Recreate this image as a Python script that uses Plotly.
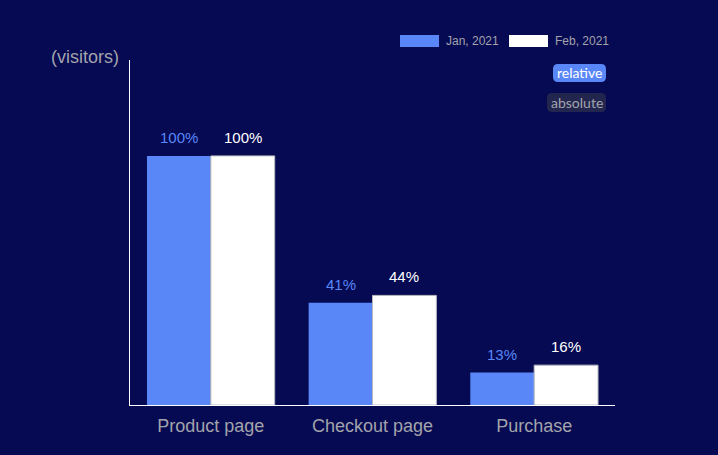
import plotly.graph_objects as go

categories = ["Product page", "Checkout page", "Purchase"]
series_names = ["Jan, 2021", "Feb, 2021"]
jan_values = [100, 41, 13]
feb_values = [100, 44, 16]
y_label = "(visitors)"
buttons = ["relative", "absolute"]

W, H = 718, 455
L, R, T, B = 130, 103, 60, 50
PW, PH = W - L - R, H - T - B
BG = "#050a52"
BLUE = "#5a87f8"
GRAY = "#a3a3ab"


def px(x):
    return (x - L) / PW


def py(y):
    return (H - B - y) / PH


def rrect(x0, y0, x1, y1, r):
    rx, ry = r / PW, r / PH
    X0, X1 = px(x0), px(x1)
    Y0, Y1 = py(y1), py(y0)  # bottom, top in paper
    return (f"M{X0+rx},{Y0} L{X1-rx},{Y0} Q{X1},{Y0} {X1},{Y0+ry} "
            f"L{X1},{Y1-ry} Q{X1},{Y1} {X1-rx},{Y1} L{X0+rx},{Y1} "
            f"Q{X0},{Y1} {X0},{Y1-ry} L{X0},{Y0+ry} Q{X0},{Y0} {X0+rx},{Y0} Z")


fig = go.Figure()
fig.add_trace(go.Bar(x=categories, y=jan_values, name=series_names[0],
                     marker=dict(color=BLUE, line=dict(width=0)), showlegend=False))
fig.add_trace(go.Bar(x=categories, y=feb_values, name=series_names[1],
                     marker=dict(color="white", line=dict(color="#b8b8c0", width=1)),
                     showlegend=False))

bargap = 0.21
half = (1 - bargap) / 4
annotations = []
for i, (a, b) in enumerate(zip(jan_values, feb_values)):
    annotations.append(dict(x=i - half, y=a, text=f"{a}%", showarrow=False,
                            yanchor="bottom", yshift=8,
                            font=dict(color=BLUE, size=15, family="Liberation Sans, Arial")))
    annotations.append(dict(x=i + half, y=b, text=f"{b}%", showarrow=False,
                            yanchor="bottom", yshift=8,
                            font=dict(color="white", size=15, family="Liberation Sans, Arial")))

# y label
annotations.append(dict(xref="paper", yref="paper", x=px(121), y=py(57), text=y_label,
                        showarrow=False, xanchor="right", yanchor="middle",
                        font=dict(color=GRAY, size=18, family="Liberation Sans, Arial")))

shapes = []
# manual legend
leg = [(400, 439, BLUE, series_names[0]), (509, 548, "white", series_names[1])]
for x0, x1, col, name in leg:
    shapes.append(dict(type="rect", xref="paper", yref="paper",
                       x0=px(x0), x1=px(x1), y0=py(47), y1=py(35),
                       fillcolor=col, line=dict(width=0)))
    annotations.append(dict(xref="paper", yref="paper", x=px(x1 + 5), y=py(41), text=name,
                            showarrow=False, xanchor="left", yanchor="middle",
                            font=dict(color=GRAY, size=12, family="Liberation Sans, Arial")))

# toggle buttons
btn = [(553, 606, 64, 82, BLUE, "white", buttons[0]),
       (547, 606, 93, 112, "#22264f", GRAY, buttons[1])]
for x0, x1, y0, y1, bg, fc, label in btn:
    shapes.append(dict(type="path", xref="paper", yref="paper", path=rrect(x0, y0, x1, y1, 5),
                       fillcolor=bg, line=dict(width=0)))
    annotations.append(dict(xref="paper", yref="paper", x=px((x0 + x1) / 2), y=py((y0 + y1) / 2),
                            text=label, showarrow=False, xanchor="center", yanchor="middle",
                            font=dict(color=fc, size=14, family="Lato")))

fig.update_layout(
    width=W, height=H,
    margin=dict(l=L, r=R, t=T, b=B, pad=0),
    paper_bgcolor=BG, plot_bgcolor=BG,
    barmode="group", bargap=bargap, bargroupgap=0,
    annotations=annotations, shapes=shapes,
    xaxis=dict(showline=True, linecolor="white", linewidth=1, showgrid=False,
               ticks="", ticklabelstandoff=4,
               tickfont=dict(color=GRAY, size=18, family="Liberation Sans, Arial"),
               zeroline=False),
    yaxis=dict(showline=True, linecolor="white", linewidth=1, showgrid=False,
               showticklabels=False, ticks="", zeroline=False, range=[0, 138.5]),
)

fig.write_html("out.html")
